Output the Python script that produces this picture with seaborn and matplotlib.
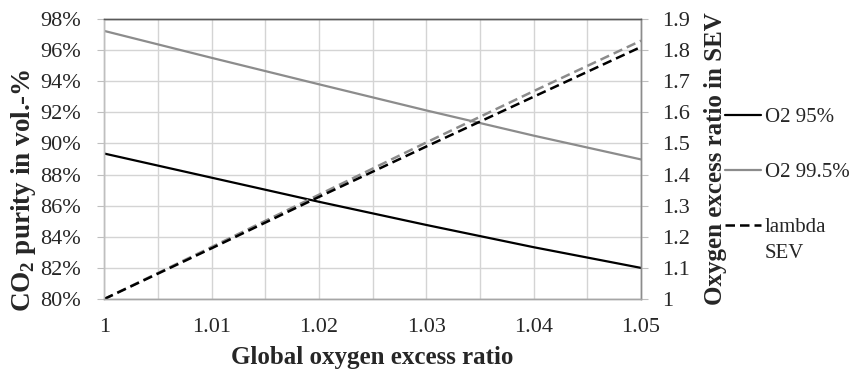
import pandas as pd
import matplotlib.pyplot as plt
import seaborn as sns
from matplotlib.ticker import MultipleLocator, FuncFormatter
from matplotlib.text import Annotation

# global oxygen excess ratio (x axis)
ratio = [1.00, 1.01, 1.02, 1.03, 1.04, 1.05]
# CO2 purity in vol.-% (left axis)
purity_o2_95 = [89.35, 87.8, 86.25, 84.76, 83.33, 82.0]
purity_o2_995 = [97.23, 95.5, 93.8, 92.12, 90.5, 88.97]
# oxygen excess ratio in SEV (right axis)
lambda_o2_95 = [1.0, 1.163, 1.328, 1.49, 1.65, 1.81]
lambda_o2_995 = [1.0, 1.167, 1.335, 1.503, 1.668, 1.83]

labels = ['O2 95%', 'O2 99.5%', 'lambda']

df = pd.DataFrame({'ratio': ratio, 'p95': purity_o2_95, 'p995': purity_o2_995,
                   'l95': lambda_o2_95, 'l995': lambda_o2_995})

sns.set_style('white')
plt.rcParams['font.family'] = ['Liberation Serif', 'DejaVu Serif']
plt.rcParams['mathtext.fontset'] = 'custom'
plt.rcParams['mathtext.rm'] = 'Liberation Serif'
plt.rcParams['mathtext.bf'] = 'Liberation Serif:bold'

fig, ax = plt.subplots(figsize=(8.61, 3.71), dpi=100)
fig.subplots_adjust(left=0.121, right=0.7445, top=0.949, bottom=0.194)
ax2 = ax.twinx()

sns.lineplot(data=df, x='ratio', y='p95', ax=ax, color='black', lw=1.6, label=labels[0], legend=False)
sns.lineplot(data=df, x='ratio', y='p995', ax=ax, color='#8c8c8c', lw=1.6, label=labels[1], legend=False)
sns.lineplot(data=df, x='ratio', y='l995', ax=ax2, color='#8c8c8c', lw=1.8, legend=False)
ax2.lines[-1].set_dashes((3.8, 2))
sns.lineplot(data=df, x='ratio', y='l95', ax=ax2, color='black', lw=1.8, label=labels[2], legend=False)
ax2.lines[-1].set_dashes((3.8, 2))

ax.set_xlim(1.0, 1.05)
ax.set_ylim(80, 98)
ax2.set_ylim(1.0, 1.9)
ax.xaxis.set_major_locator(MultipleLocator(0.01))
ax.xaxis.set_minor_locator(MultipleLocator(0.005))
ax.xaxis.set_major_formatter(FuncFormatter(lambda v, p: f'{v:g}'))
ax.yaxis.set_major_locator(MultipleLocator(2))
ax.yaxis.set_major_formatter(FuncFormatter(lambda v, p: f'{v:.0f}%'))
ax2.yaxis.set_major_locator(MultipleLocator(0.1))
ax2.yaxis.set_major_formatter(FuncFormatter(lambda v, p: f'{v:g}'))

ax.grid(True, which='both', color='#d4d4d4', lw=1.0)
ax.set_axisbelow(True)

for a in (ax, ax2):
    a.spines['top'].set_color('#595959')
    a.spines['right'].set_color('#8c8c8c')
    a.spines['bottom'].set_color('#a6a6a6')
    a.spines['left'].set_color('#bfbfbf')
    for s in a.spines.values():
        s.set_linewidth(1.0)

ax.tick_params(axis='x', which='major', direction='out', length=5, color='#a6a6a6', labelsize=16, pad=9)
ax.tick_params(axis='x', which='minor', length=0)
ax.tick_params(axis='y', direction='out', length=5, color='#bfbfbf', labelsize=16, pad=12)
ax2.tick_params(axis='y', direction='out', length=5, color='#bfbfbf', labelsize=16, pad=10)

ax.set_xlabel('Global oxygen excess ratio', fontweight='bold', fontsize=18, labelpad=6)
ax.set_ylabel(r'CO$_\mathbf{2}$ purity in vol.-%', fontweight='bold', fontsize=19.5)
ax.yaxis.set_label_coords(-0.123, 0.39)
ax2.set_ylabel('Oxygen excess ratio in SEV', fontweight='bold', fontsize=18, labelpad=10)

h1, l1 = ax.get_legend_handles_labels()
h2, l2 = ax2.get_legend_handles_labels()
leg = fig.legend(h1 + h2, l1 + l2, loc='upper left', bbox_to_anchor=(0.842, 0.71),
                 frameon=False, fontsize=15, handlelength=1.75, handletextpad=0.15,
                 labelspacing=1.7, borderpad=0, borderaxespad=0)
# second line of the lambda entry sits under its first line
sev = Annotation('SEV', xy=(0, 0.5), xycoords=leg.get_texts()[2], xytext=(0, -26),
                 textcoords='offset pixels', va='center', ha='left', fontsize=15)
sev.set_zorder(10)
fig.add_artist(sev)

fig.savefig('out.png', dpi=100)
